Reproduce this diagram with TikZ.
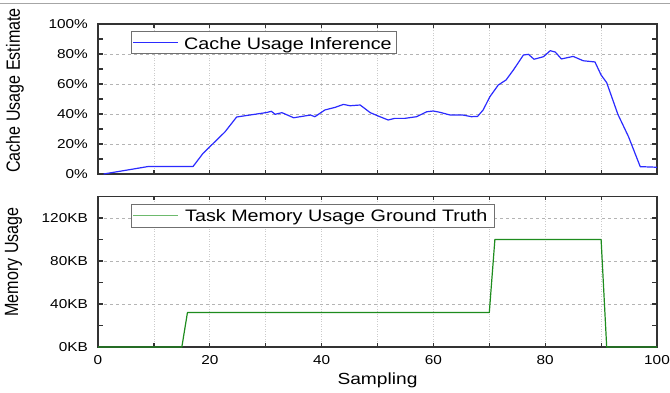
\documentclass[tikz,border=0pt]{standalone}
\usepackage{fontspec}
\setmainfont{Liberation Sans}
% horizontally widened text, and its counterpart for text that is turned upright
\newcommand{\wide}[1]{\scalebox{1.19}[1]{#1}}
\newcommand{\tallish}[1]{\scalebox{1}[1.19]{#1}}
\definecolor{framecol}{HTML}{333333}
\definecolor{gridcol}{HTML}{B4B4B4}
\definecolor{cacheblue}{HTML}{2B2BFF}
\definecolor{truthgreen}{HTML}{1E8C1E}
\definecolor{legendgreen}{HTML}{6DBA6D}
\definecolor{legendframe}{HTML}{707070}
\begin{document}
\begin{tikzpicture}[x=1pt,y=1pt,
  plotframe/.style={draw=framecol,line width=1.4pt},
  gridh/.style={draw=gridcol,line width=0.7pt,dash pattern=on 3pt off 3pt},
  gridv/.style={draw=gridcol!70,line width=0.7pt,dash pattern=on 1pt off 1.5pt},
  tickmark/.style={draw=framecol,line width=1.2pt},
  ticklabel/.style={font=\fontsize{12.9}{14}\selectfont,inner sep=0pt},
  axislabel/.style={font=\fontsize{16.1}{18}\selectfont,inner sep=0pt},
  legendbox/.style={draw=legendframe,line width=0.9pt,fill=white},
  legendtext/.style={font=\fontsize{16.6}{18}\selectfont,inner sep=0pt,anchor=base west},
  dataline/.style={line width=1.2pt,line join=round},
]
\useasboundingbox (0,0) rectangle (670,392);
\fill[white] (0,0) rectangle (670,392);
\draw[gray!70,line width=1pt] (0,388) -- (670,388);

% ---------------- upper panel: cache usage estimate ----------------
\begin{scope}[shift={(98,218)},x=5.59pt,y=1.5pt]
  \foreach \s in {10,20,...,90} \draw[gridv] (\s,0) -- (\s,100);
  \foreach \p in {20,40,60,80} \draw[gridh] (0,\p) -- (100,\p);
  \foreach \s in {10,20,...,90} {
    \draw[tickmark] (\s,0) -- ++(0,4pt);
    \draw[tickmark] (\s,100) -- ++(0,-4pt);
  }
  \foreach \p in {10,20,...,90} {
    \draw[tickmark] (0,\p) -- ++(5pt,0);
    \draw[tickmark] (100,\p) -- ++(-5pt,0);
  }
  \draw[plotframe] (0,0) rectangle (100,100);
  \draw[dataline,draw=cacheblue] plot coordinates {
    (1,0) (9,5) (17,5) (18.8,13.8) (22.7,28) (24.8,38) (30.2,41) (31,41.8)
    (31.7,39.8) (32.9,40.9) (35,37.5) (37,38.7) (38,39.3) (38.8,38.2)
    (40.6,42.7) (42.4,44.4) (43.9,46.4) (45.1,45.5) (46.9,46) (48.7,40.9)
    (50.1,38.7) (51.9,36) (53.1,37.1) (54.9,37.1) (57,38.2) (58.8,41.5)
    (60,42) (61.2,41.1) (63,39.3) (65.3,39.3) (66.8,38.2) (67.9,38.4)
    (68.9,42.7) (70.1,51.5) (71.6,59.3) (73,62.7) (74.3,69.3) (76.1,79.3)
    (77,79.8) (78,76.5) (79.7,78.2) (80.9,82.2) (81.8,81.3) (82.9,76.7)
    (85,78.4) (86.8,75.5) (88.9,74.7) (90,66) (91,60.9) (93,39.8)
    (94.9,24.9) (97,4.9) (100,4.5)};
  \foreach \p in {0,20,...,100}
    \node[ticklabel,anchor=east] (cachetick\p) at ([xshift=-10pt]0,\p) {\wide{\p\%}};
\end{scope}

% legend of the upper panel
\draw[legendbox] (131,361) rectangle (396,339);
\coordinate (cachekeyA) at (133,349.3);
\coordinate (cachekeyB) at (178,349.3);
\draw[dataline,draw=cacheblue] (cachekeyA) -- (cachekeyB);
\node[legendtext] (cachekey) at (184,342.7) {\wide{Cache Usage Inference}};

\node[axislabel,rotate=90] (cacheaxis) at (15,301.5) {\tallish{Cache Usage Estimate}};

% ---------------- lower panel: task memory ground truth ----------------
\begin{scope}[shift={(98,45)},x=5.59pt,y=1.0757pt]
  \foreach \s in {10,20,...,90} \draw[gridv] (\s,0) -- (\s,140);
  \foreach \k in {40,80,120} \draw[gridh] (0,\k) -- (100,\k);
  \foreach \s in {10,20,...,90} {
    \draw[tickmark] (\s,0) -- ++(0,4pt);
    \draw[tickmark] (\s,140) -- ++(0,-4pt);
  }
  \foreach \k in {20,40,...,120} {
    \draw[tickmark] (0,\k) -- ++(5pt,0);
    \draw[tickmark] (100,\k) -- ++(-5pt,0);
  }
  \draw[plotframe] (0,0) rectangle (100,140);
  \draw[dataline,draw=truthgreen] plot coordinates {
    (0,0) (15,0) (16,32) (70,32) (71,100) (90,100) (91,0) (100,0)};
  \foreach \k in {0,40,80,120}
    \node[ticklabel,anchor=east] (memtick\k) at ([xshift=-10pt]0,\k) {\wide{\k KB}};
  \foreach \s in {0,20,...,100}
    \node[ticklabel] (samptick\s) at ([yshift=-13pt]\s,0) {\wide{\s}};
\end{scope}

% legend of the lower panel
\draw[legendbox] (131,187.7) rectangle (494,164.3);
\coordinate (truthkeyA) at (133,176.7);
\coordinate (truthkeyB) at (178,176.7);
\draw[dataline,draw=legendgreen] (truthkeyA) -- (truthkeyB);
\node[legendtext] (truthkey) at (185,171) {\wide{Task Memory Usage Ground Truth}};

\node[axislabel,rotate=90] (memaxis) at (13.5,130) {\tallish{Memory Usage}};
\node[axislabel] (sampaxis) at (377.5,12) {\wide{Sampling}};
\end{tikzpicture}
\end{document}
